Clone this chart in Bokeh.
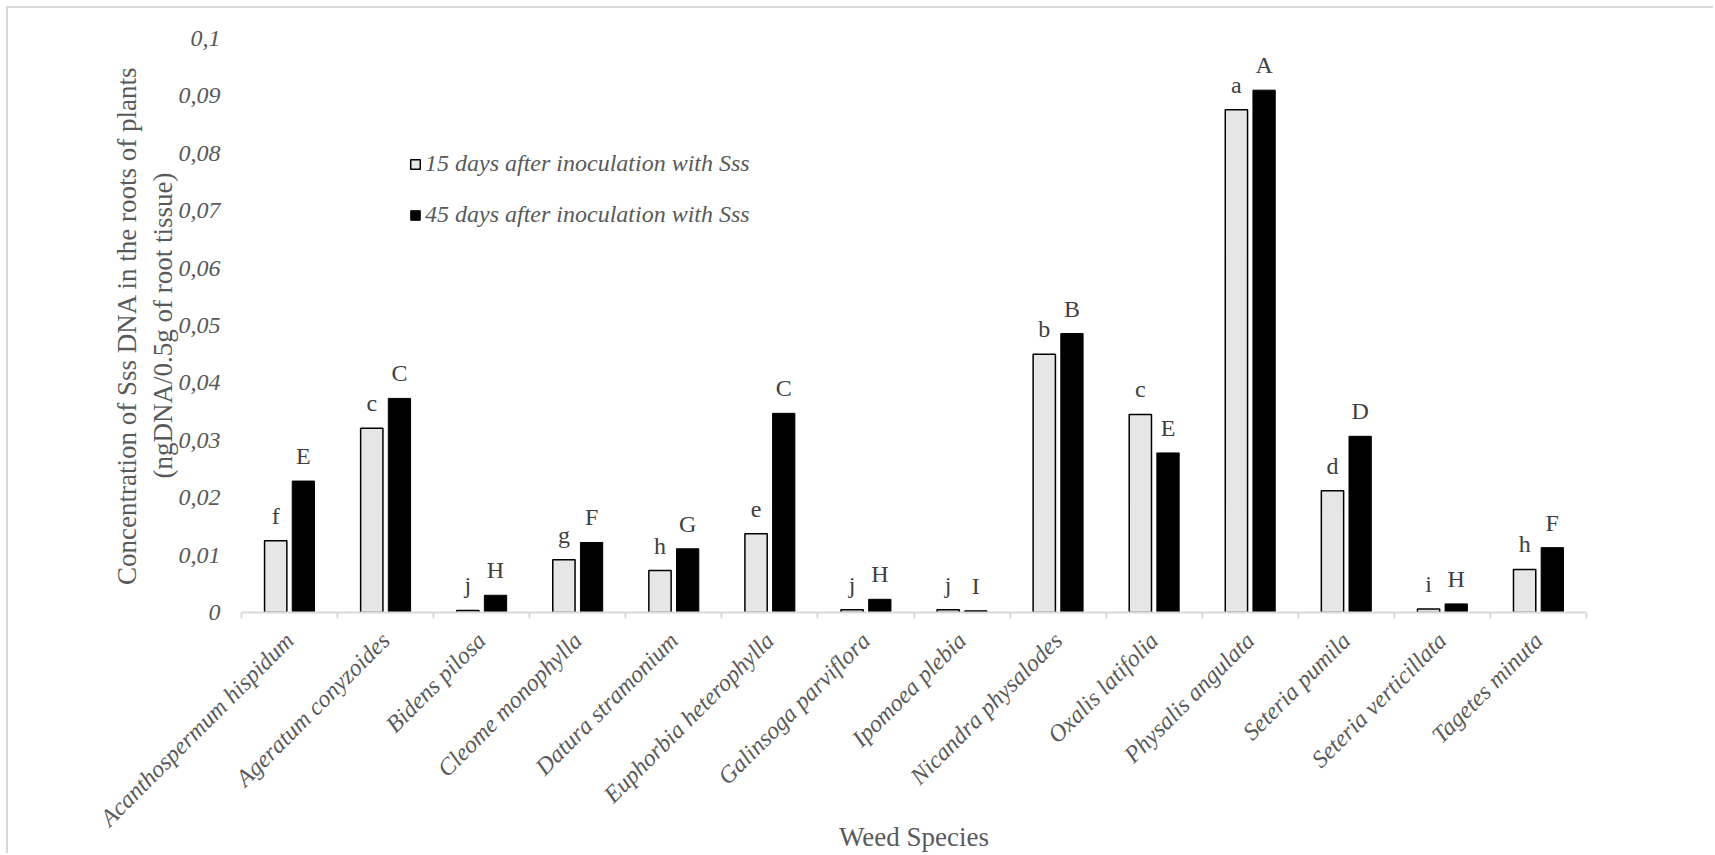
import math
from bokeh.plotting import figure
from bokeh.models import (ColumnDataSource, FixedTicker, LabelSet, Legend,
                          LegendItem, Range1d)
from bokeh.core.properties import value
from bokeh.embed import file_html
from bokeh.resources import INLINE

species = ["Acanthospermum hispidum", "Ageratum conyzoides", "Bidens pilosa",
           "Cleome monophylla", "Datura stramonium", "Euphorbia heterophylla",
           "Galinsoga parviflora", "Ipomoea plebia", "Nicandra physalodes",
           "Oxalis latifolia", "Physalis angulata", "Seteria pumila",
           "Seteria verticillata", "Tagetes minuta"]
day15 = [0.0125, 0.0321, 0.00035, 0.0092, 0.0073, 0.0137, 0.0005, 0.0005,
         0.0450, 0.0345, 0.0876, 0.0212, 0.0006, 0.0075]
day45 = [0.0229, 0.0373, 0.0030, 0.0122, 0.0111, 0.0347, 0.0023, 0.0003,
         0.0486, 0.0278, 0.0910, 0.0307, 0.0015, 0.0113]
letters15 = ["f", "c", "j", "g", "h", "e", "j", "j", "b", "c", "a", "d", "i", "h"]
letters45 = ["E", "C", "H", "F", "G", "C", "H", "I", "B", "E", "A", "D", "H", "F"]
series_names = ["15 days after inoculation with Sss", "45 days after inoculation with Sss"]
y_ticks = [0, 0.01, 0.02, 0.03, 0.04, 0.05, 0.06, 0.07, 0.08, 0.09, 0.1]
y_tick_labels = ["0", "0,01", "0,02", "0,03", "0,04", "0,05", "0,06", "0,07",
                 "0,08", "0,09", "0,1"]
x_title = "Weed Species"
y_title = "Concentration of Sss DNA in the roots of plants\n(ngDNA/0.5g of root tissue)"

FONT = "Liberation Serif"
GRAY = "#595959"

n = len(species)
centers = [i + 0.5 for i in range(n)]
bar_w = 0.232
off = 0.144

src15 = ColumnDataSource(dict(x=[c - off for c in centers], top=day15, lab=letters15))
src45 = ColumnDataSource(dict(x=[c + off for c in centers], top=day45, lab=letters45))

# canvas placed at page (8, 8) via margin + 2px border (chart-area frame)
p = figure(width=1707, height=847, x_range=Range1d(0, n), y_range=Range1d(0, 0.1),
           output_backend="svg", toolbar_location=None,
           min_border_left=233, min_border_right=129, min_border_top=30,
           min_border_bottom=242)
p.styles = {"margin-left": "6px", "margin-top": "6px",
            "border-top": "2px solid #D9D9D9", "border-left": "2px solid #D9D9D9"}
p.outline_line_color = None
p.grid.visible = False

r15 = p.vbar(x="x", top="top", width=bar_w, source=src15,
             fill_color="#E7E6E6", line_color="black", line_width=1.5)
r45 = p.vbar(x="x", top="top", width=bar_w, source=src45,
             fill_color="black", line_color="black", line_width=1)

# x axis
xa = p.xaxis[0]
xa.ticker = FixedTicker(ticks=centers, minor_ticks=list(range(n + 1)))
xa.major_label_overrides = {c: s for c, s in zip(centers, species)}
xa.major_label_orientation = math.pi / 4
xa.major_tick_line_color = None
xa.major_tick_out = 0
xa.minor_tick_line_color = "#D9D9D9"
xa.minor_tick_line_width = 2
xa.minor_tick_out = 6
xa.minor_tick_in = 0
xa.axis_line_color = "#D9D9D9"
xa.axis_line_width = 2
xa.major_label_text_font = FONT
xa.major_label_text_font_style = "italic"
xa.major_label_text_font_size = "24px"
xa.major_label_text_color = GRAY
xa.major_label_standoff = 18
xa.axis_label = x_title
xa.axis_label_text_font = FONT
xa.axis_label_text_font_style = "normal"
xa.axis_label_text_font_size = "27px"
xa.axis_label_text_color = GRAY
xa.axis_label_standoff = -21

# y axis
ya = p.yaxis[0]
ya.ticker = FixedTicker(ticks=y_ticks)
ya.major_label_overrides = {t: s for t, s in zip(y_ticks, y_tick_labels)}
ya.axis_line_color = None
ya.major_tick_line_color = None
ya.minor_tick_line_color = None
ya.major_tick_out = 0
ya.major_tick_in = 0
ya.major_label_standoff = 21
ya.major_label_text_font = FONT
ya.major_label_text_font_style = "italic"
ya.major_label_text_font_size = "24px"
ya.major_label_text_color = GRAY
ya.axis_label = y_title
ya.axis_label_text_font = FONT
ya.axis_label_text_font_style = "normal"
ya.axis_label_text_font_size = "27px"
ya.axis_label_text_color = GRAY
ya.axis_label_standoff = -2

# letter labels
for src in (src15, src45):
    p.add_layout(LabelSet(x="x", y="top", text="lab", source=src,
                          text_align="center", text_baseline="alphabetic",
                          y_offset=17, text_font=value(FONT),
                          text_font_size="24px", text_color="#404040"))

legend = Legend(items=[LegendItem(label=series_names[0], renderers=[r15]),
                       LegendItem(label=series_names[1], renderers=[r45])],
                location=(168, 384))
legend.glyph_width = 12
legend.glyph_height = 12
legend.label_standoff = 4
legend.spacing = 24
legend.padding = 0
legend.margin = 0
legend.border_line_color = None
legend.background_fill_alpha = 0
legend.label_text_font = FONT
legend.label_text_font_style = "italic"
legend.label_text_font_size = "24px"
legend.label_text_color = GRAY
legend.label_height = 24
p.add_layout(legend)

open("out.html", "w").write(file_html(p, INLINE))
